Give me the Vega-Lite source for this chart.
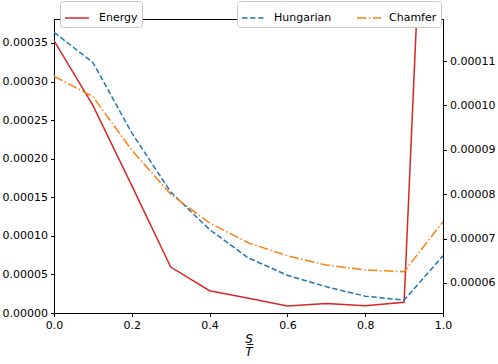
{
  "$schema": "https://vega.github.io/schema/vega-lite/v6.json",
  "autosize": {"type": "none"},
  "width": 389,
  "height": 294,
  "padding": {"left": 54, "top": 19, "right": 55, "bottom": 51},
  "background": "white",
  "config": {
    "font": "DejaVu Sans",
    "view": {"stroke": "black", "strokeWidth": 1},
    "axis": {"labelFont": "DejaVu Sans", "labelFontSize": 11, "labelColor": "black", "domainColor": "black", "tickColor": "black", "tickSize": 3.5, "grid": false, "labelPadding": 3, "labelFlush": false},
    "legend": {"labelFont": "DejaVu Sans", "labelFontSize": 11, "labelColor": "black"}
  },
  "datasets": {
    "energy": [
      {"x": 0.0, "v": 0.000353, "series": "Energy"},
      {"x": 0.1, "v": 0.000269, "series": "Energy"},
      {"x": 0.2, "v": 0.000165, "series": "Energy"},
      {"x": 0.3, "v": 0.0000595, "series": "Energy"},
      {"x": 0.4, "v": 0.0000289, "series": "Energy"},
      {"x": 0.5, "v": 0.0000190, "series": "Energy"},
      {"x": 0.6, "v": 0.0000091, "series": "Energy"},
      {"x": 0.7, "v": 0.0000122, "series": "Energy"},
      {"x": 0.8, "v": 0.0000095, "series": "Energy"},
      {"x": 0.9, "v": 0.0000139, "series": "Energy"},
      {"x": 1.0, "v": 0.00116, "series": "Energy"}
    ],
    "others": [
      {"x": 0.0, "v": 0.0001165, "series": "Hungarian"},
      {"x": 0.1, "v": 0.0001097, "series": "Hungarian"},
      {"x": 0.2, "v": 0.0000938, "series": "Hungarian"},
      {"x": 0.3, "v": 0.0000805, "series": "Hungarian"},
      {"x": 0.4, "v": 0.0000720, "series": "Hungarian"},
      {"x": 0.5, "v": 0.0000656, "series": "Hungarian"},
      {"x": 0.6, "v": 0.0000617, "series": "Hungarian"},
      {"x": 0.7, "v": 0.0000591, "series": "Hungarian"},
      {"x": 0.8, "v": 0.0000570, "series": "Hungarian"},
      {"x": 0.9, "v": 0.0000561, "series": "Hungarian"},
      {"x": 1.0, "v": 0.0000661, "series": "Hungarian"},
      {"x": 0.0, "v": 0.0001066, "series": "Chamfer"},
      {"x": 0.1, "v": 0.0001020, "series": "Chamfer"},
      {"x": 0.2, "v": 0.0000899, "series": "Chamfer"},
      {"x": 0.3, "v": 0.0000800, "series": "Chamfer"},
      {"x": 0.4, "v": 0.0000735, "series": "Chamfer"},
      {"x": 0.5, "v": 0.0000690, "series": "Chamfer"},
      {"x": 0.6, "v": 0.0000661, "series": "Chamfer"},
      {"x": 0.7, "v": 0.0000640, "series": "Chamfer"},
      {"x": 0.8, "v": 0.0000629, "series": "Chamfer"},
      {"x": 0.9, "v": 0.0000625, "series": "Chamfer"},
      {"x": 1.0, "v": 0.0000738, "series": "Chamfer"}
    ]
  },
  "layer": [
    {
      "data": {"name": "energy"},
      "mark": {"type": "line", "clip": true, "strokeWidth": 1.5},
      "encoding": {
        "x": {"field": "x", "type": "quantitative", "scale": {"domain": [0, 1], "nice": false, "zero": false},
              "axis": {"values": [0, 0.2, 0.4, 0.6, 0.8, 1.0], "format": ".1f", "title": ["S", "T\u0305"], "titleFont": "DejaVu Sans", "titleFontStyle": "italic", "titleFontWeight": "normal", "titleFontSize": 12, "titleColor": "black", "titlePadding": 3, "titleLineHeight": 13}},
        "y": {"field": "v", "type": "quantitative", "scale": {"domain": [0, 0.000381], "nice": false, "zero": false},
              "axis": {"values": [0, 0.00005, 0.0001, 0.00015, 0.0002, 0.00025, 0.0003, 0.00035], "format": ".5f", "title": null}},
        "color": {"field": "series", "type": "nominal", "scale": {"domain": ["Energy"], "range": ["#d62728"]},
                  "legend": {"title": null, "orient": "none", "legendX": 6, "legendY": -18, "direction": "horizontal", "symbolType": "stroke", "symbolSize": 576, "symbolStrokeWidth": 1.5, "fillColor": "white", "strokeColor": "#c8c8c8", "padding": 4, "labelOffset": 9, "cornerRadius": 3}}
      }
    },
    {
      "data": {"name": "others"},
      "mark": {"type": "line", "clip": true, "strokeWidth": 1.5},
      "encoding": {
        "x": {"field": "x", "type": "quantitative", "scale": {"domain": [0, 1], "nice": false, "zero": false}},
        "y": {"field": "v", "type": "quantitative", "scale": {"domain": [0.0000532, 0.0001195], "nice": false, "zero": false},
              "axis": {"orient": "right", "values": [0.00006, 0.00007, 0.00008, 0.00009, 0.0001, 0.00011], "format": ".5f", "title": null}},
        "color": {"field": "series", "type": "nominal", "scale": {"domain": ["Hungarian", "Chamfer"], "range": ["#1f77b4", "#ff7f0e"]},
                  "legend": {"title": null, "orient": "none", "legendX": 183, "legendY": -18, "direction": "horizontal", "symbolType": "stroke", "symbolSize": 576, "symbolStrokeWidth": 1.5, "fillColor": "white", "strokeColor": "#c8c8c8", "padding": 4, "labelOffset": 7, "columnPadding": 22, "cornerRadius": 3}},
        "strokeDash": {"field": "series", "type": "nominal", "scale": {"domain": ["Hungarian", "Chamfer"], "range": [[5.5, 2.5], [9.5, 2.5, 1.5, 2.5]]},
                  "legend": {"title": null, "orient": "none", "legendX": 183, "legendY": -18, "direction": "horizontal", "symbolType": "stroke", "symbolSize": 576, "symbolStrokeWidth": 1.5, "fillColor": "white", "strokeColor": "#c8c8c8", "padding": 4, "labelOffset": 7, "columnPadding": 22, "cornerRadius": 3}}
      }
    }
  ],
  "resolve": {"scale": {"y": "independent", "color": "independent", "strokeDash": "independent"}}
}
